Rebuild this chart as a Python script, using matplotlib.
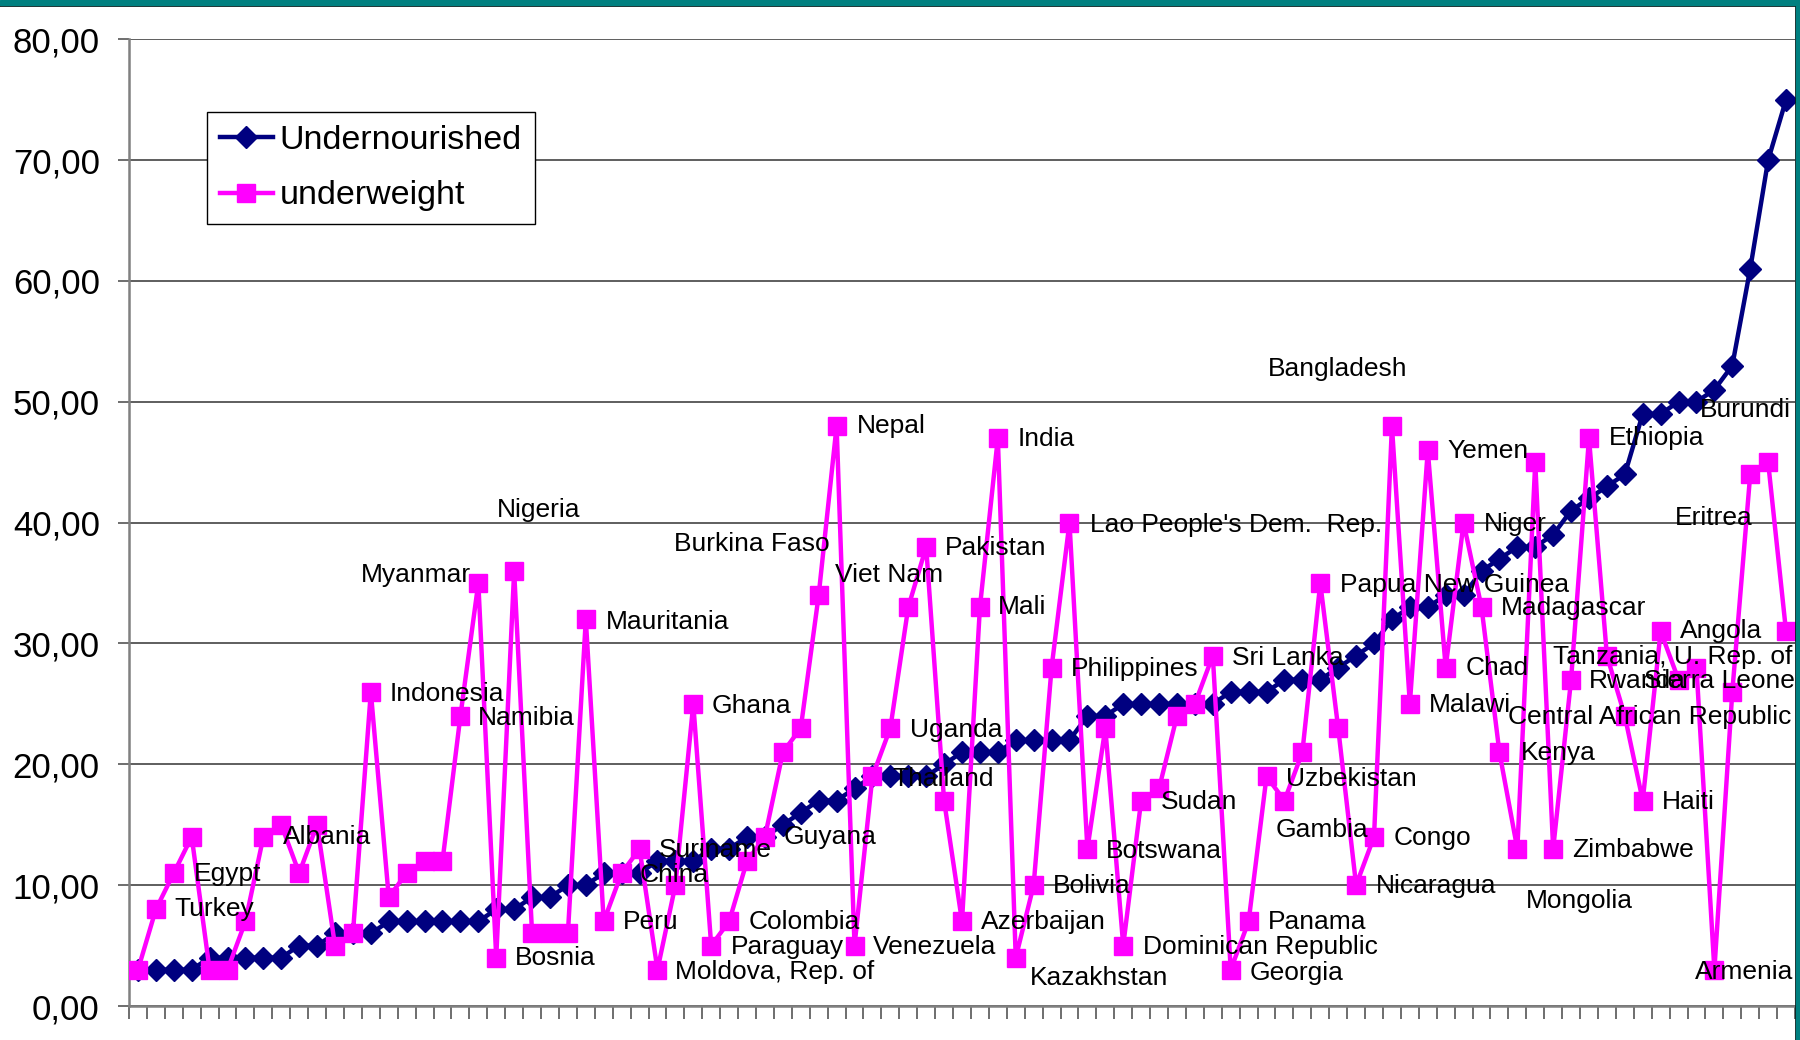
import matplotlib
matplotlib.use("Agg")
from matplotlib import pyplot as plt
from matplotlib.ticker import FuncFormatter, MultipleLocator
from matplotlib.patches import Rectangle
from matplotlib.lines import Line2D
import numpy as np

plt.rcParams['font.family'] = ['Liberation Sans', 'DejaVu Sans']

# values per country (sorted by undernourished share)
undernourished = [3, 3, 3, 3, 4, 4, 4, 4, 4, 5,
                  5, 6, 6, 6, 7, 7, 7, 7, 7, 7,
                  8, 8, 9, 9, 10, 10, 11, 11, 11, 12,
                  12, 12, 13, 13, 14, 14, 15, 16, 17, 17,
                  18, 19, 19, 19, 19, 20, 21, 21, 21, 22,
                  22, 22, 22, 24, 24, 25, 25, 25, 25, 25,
                  25, 26, 26, 26, 27, 27, 27, 28, 29, 30,
                  32, 33, 33, 34, 34, 36, 37, 38, 38, 39,
                  41, 42, 43, 44, 49, 49, 50, 50, 51, 53,
                  61, 70, 75]
underweight = [3, 8, 11, 14, 3, 3, 7, 14, 15, 11,
               15, 5, 6, 26, 9, 11, 12, 12, 24, 35,
               4, 36, 6, 6, 6, 32, 7, 11, 13, 3,
               10, 25, 5, 7, 12, 14, 21, 23, 34, 48,
               5, 19, 23, 33, 38, 17, 7, 33, 47, 4,
               10, 28, 40, 13, 23, 5, 17, 18, 24, 25,
               29, 3, 7, 19, 17, 21, 35, 23, 10, 14,
               48, 25, 46, 28, 40, 33, 21, 13, 45, 13,
               27, 47, 29, 24, 17, 31, 27, 28, 3, 26,
               44, 45, 31]

# data labels: text, x (category number), y (value)
labels = [
    ("Turkey", 3.05, 8.0), ("Egypt", 4.1, 10.9), ("Albania", 9.1, 14.0),
    ("Indonesia", 15.05, 25.8), ("Namibia", 20.0, 23.85), ("Myanmar", 13.45, 35.7),
    ("Nigeria", 21.05, 41.05), ("Bosnia", 22.05, 4.0), ("Mauritania", 27.1, 31.8),
    ("Peru", 28.05, 6.95), ("China", 29.0, 10.8), ("Suriname", 30.05, 12.9),
    ("Moldova, Rep. of", 31.0, 2.85), ("Ghana", 33.05, 24.8), ("Paraguay", 34.1, 4.85),
    ("Colombia", 35.1, 6.95), ("Guyana", 37.05, 14.0), ("Burkina Faso", 30.95, 38.2),
    ("Nepal", 41.15, 48.0), ("Viet Nam", 39.9, 35.7), ("Venezuela", 42.05, 4.85),
    ("Uganda", 44.1, 22.8), ("Thailand", 43.1, 18.8), ("Pakistan", 46.05, 37.9),
    ("Mali", 49.0, 33.0), ("India", 50.1, 46.9), ("Azerbaijan", 48.05, 6.95),
    ("Kazakhstan", 50.8, 2.3), ("Bolivia", 52.1, 9.9), ("Philippines", 53.1, 27.9),
    ("Lao People's Dem.  Rep.", 54.15, 39.8), ("Botswana", 55.05, 12.85),
    ("Sudan", 58.1, 16.9), ("Dominican Republic", 57.1, 4.85), ("Sri Lanka", 62.05, 28.8),
    ("Georgia", 63.05, 2.75), ("Panama", 64.1, 6.95), ("Uzbekistan", 65.1, 18.8),
    ("Gambia", 64.5, 14.6), ("Papua New Guinea", 68.1, 34.8), ("Bangladesh", 64.1, 52.7),
    ("Congo", 71.1, 13.9), ("Nicaragua", 70.1, 9.9), ("Yemen", 74.1, 45.9),
    ("Malawi", 73.05, 24.9), ("Chad", 75.1, 28.0), ("Niger", 76.15, 39.9),
    ("Madagascar", 77.1, 32.9), ("Kenya", 78.2, 20.9),
    ("Central African Republic", 77.5, 23.9), ("Mongolia", 78.5, 8.65),
    ("Zimbabwe", 81.05, 12.9), ("Ethiopia", 83.1, 47.0),
    ("Tanzania, U. Rep. of", 80.0, 28.9), ("Rwanda", 82.0, 26.9), ("Haiti", 86.05, 16.9),
    ("Angola", 87.1, 31.0), ("Sierra Leone", 85.05, 26.9), ("Eritrea", 86.8, 40.4),
    ("Burundi", 88.2, 49.3), ("Armenia", 87.9, 2.85),
]

W, H = 1800, 1040
fig = plt.figure(figsize=(18, 10.4), dpi=100)
ax = fig.add_axes([129 / W, 1 - 1006 / H, (1795 - 129) / W, (1006 - 39.3) / H])

x = np.arange(1, len(undernourished) + 1)
ax.plot(x, undernourished, color='#000080', lw=3.2, marker='D', ms=11.5,
        label='Undernourished', zorder=3)
ax.plot(x, underweight, color='#FF00FF', lw=3.2, marker='s', ms=13,
        label='underweight', zorder=4)

for txt, lx, ly in labels:
    ax.text(lx, ly, txt, fontsize=19, ha='left', va='center', zorder=6)

ax.set_xlim(0.5, len(undernourished) + 0.5)
ax.set_ylim(0, 80)
ax.yaxis.set_major_locator(MultipleLocator(10))
ax.yaxis.set_major_formatter(FuncFormatter(lambda v, p: f"{v:.2f}".replace('.', ',')))
ax.set_xticks(np.arange(0.5, len(undernourished) + 1, 1))
ax.set_xticklabels([])
ax.tick_params(axis='x', direction='out', length=9, width=1.2, color='#555555')
ax.tick_params(axis='y', direction='out', length=8, width=1.2, color='#555555',
               labelsize=25, pad=13)
ax.grid(axis='y', color='#333333', lw=1.1)
ax.set_axisbelow(True)
for s in ['top', 'right']:
    ax.spines[s].set_visible(False)
for s in ['left', 'bottom']:
    ax.spines[s].set_color('#808080')
    ax.spines[s].set_linewidth(1.8)

leg = ax.legend(loc='upper left', bbox_to_anchor=(207 / W, 1 - 112 / H),
                bbox_transform=fig.transFigure, fontsize=24.5, frameon=True,
                fancybox=False, edgecolor='black', framealpha=1, borderpad=0.38,
                handlelength=1.55, handletextpad=0.2, labelspacing=0.72,
                borderaxespad=0, numpoints=1)
leg.get_frame().set_linewidth(1.0)

# teal chart frame visible at top and right
fig.patches.append(Rectangle((0, 1 - 5 / H), 1, 5 / H, transform=fig.transFigure,
                             color='#008080', zorder=10))
fig.patches.append(Rectangle((1796 / W, 0), 4 / W, 1, transform=fig.transFigure,
                             color='#008080', zorder=10))
fig.lines.append(Line2D([0, 1795.5 / W], [1 - 5.5 / H, 1 - 5.5 / H],
                        transform=fig.transFigure, color='black', lw=1.2))
fig.lines.append(Line2D([1795.5 / W, 1795.5 / W], [0, 1 - 5.5 / H],
                        transform=fig.transFigure, color='black', lw=1.2))

fig.savefig("out.png", dpi=100)
